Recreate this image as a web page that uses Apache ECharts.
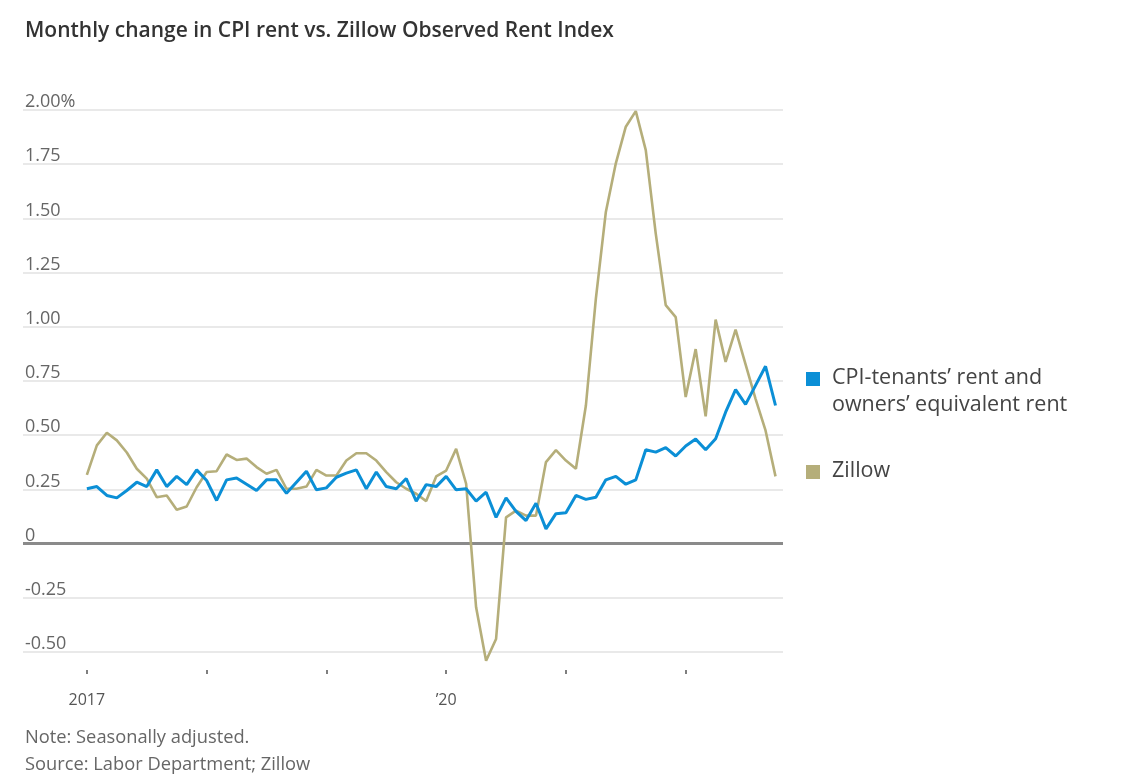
<!DOCTYPE html>
<html>
<head>
<meta charset="utf-8">
<script src="https://cdn.jsdelivr.net/npm/echarts@6/dist/echarts.min.js"></script>
<style>
html,body{margin:0;padding:0;background:#fff;}
#chart{width:1144px;height:778px;}
</style>
</head>
<body>
<div id="chart"></div>
<script>
// Months: Jan 2017 .. Oct 2022 (index 0..69)
var startYear = 2017;
var months = [];
for (var k = 0; k < 70; k++) {
  months.push((startYear + Math.floor(k / 12)) + '-' + String(k % 12 + 1).padStart(2, '0'));
}

var cpiRent = [0.253,0.263,0.222,0.211,0.245,0.283,0.263,0.34,0.263,0.31,0.272,0.34,
  0.291,0.199,0.294,0.303,0.274,0.245,0.294,0.294,0.232,0.283,0.334,0.248,
  0.257,0.306,0.325,0.34,0.253,0.33,0.263,0.253,0.30,0.196,0.272,0.263,
  0.31,0.248,0.253,0.196,0.237,0.121,0.211,0.149,0.106,0.186,0.068,0.138,
  0.142,0.222,0.204,0.214,0.294,0.31,0.274,0.294,0.433,0.422,0.443,0.404,
  0.45,0.482,0.433,0.484,0.606,0.71,0.642,0.73,0.818,0.637];

var zillow = [0.317,0.453,0.511,0.476,0.42,0.345,0.30,0.214,0.222,0.156,0.171,0.26,
  0.33,0.334,0.411,0.386,0.392,0.353,0.322,0.34,0.253,0.253,0.263,0.34,
  0.314,0.314,0.383,0.417,0.417,0.383,0.33,0.283,0.253,0.23,0.196,0.31,
  0.337,0.437,0.276,-0.294,-0.54,-0.44,0.121,0.152,0.129,0.129,0.376,0.431,
  0.383,0.345,0.637,1.13,1.53,1.754,1.923,1.995,1.815,1.43,1.1,1.045,
  0.676,0.897,0.587,1.033,0.838,0.987,0.827,0.668,0.522,0.31];

var yearTicks = [0, 12, 24, 36, 48, 60];
var yearLabels = {0: '2017', 36: '\u201920'};

function pairs(arr) { return arr.map(function (v, i) { return [i, v]; }); }

var FONT = '"Open Sans", Lato, sans-serif';
var chart = echarts.init(document.getElementById('chart'), null, {renderer: 'canvas'});
chart.setOption({
  animation: false,
  backgroundColor: '#fff',
  title: {
    text: 'Monthly change in CPI rent vs. Zillow Observed Rent Index',
    left: 25, top: 21, padding: 0,
    textStyle: {fontFamily: FONT, fontSize: 21, fontWeight: 600, color: '#333'}
  },
  grid: {left: 23, right: 361, top: 110, bottom: 126, containLabel: false},
  xAxis: {
    type: 'value', min: -6.4, max: 69.75,
    offset: 18,
    axisLine: {show: false, onZero: false},
    splitLine: {show: false},
    axisTick: {show: true, length: 4, customValues: yearTicks, lineStyle: {color: '#555', width: 1.5}},
    axisLabel: {customValues: [0, 36], margin: 22, fontFamily: FONT, fontSize: 16, color: '#555',
      formatter: function (v) { return yearLabels[v] || ''; }}
  },
  yAxis: {
    type: 'value', min: -0.5, max: 2, interval: 0.25,
    axisLine: {show: false}, axisTick: {show: false},
    splitLine: {show: true, lineStyle: {color: '#e9e9e9', width: 2}},
    axisLabel: {
      inside: true, margin: 2, align: 'left', verticalAlign: 'bottom', lineHeight: 16, padding: [0, 0, 0, 0],
      fontFamily: FONT, fontSize: 18, color: '#666',
      formatter: function (v) {
        if (Math.abs(v) < 1e-9) return '0';
        if (Math.abs(v - 2) < 1e-9) return '2.00%';
        return v.toFixed(2);
      }
    }
  },
  series: [
    {
      name: 'Zillow', type: 'line', data: pairs(zillow), showSymbol: false, clip: false,
      lineStyle: {color: '#b5ae7a', width: 2.6}, itemStyle: {color: '#b5ae7a'}, z: 3,
      markLine: {
        silent: true, symbol: ['none', 'none'], label: {show: false},
        lineStyle: {color: '#8a8a8a', width: 3, type: 'solid'},
        data: [{yAxis: 0}], z: 2
      }
    },
    {
      name: 'CPI', type: 'line', data: pairs(cpiRent), showSymbol: false, clip: false,
      lineStyle: {color: '#0b8fd6', width: 3}, itemStyle: {color: '#0b8fd6'}, z: 4
    }
  ],
  graphic: [
    {type: 'rect', left: 806, top: 372, shape: {width: 14, height: 14}, style: {fill: '#0b8fd6'}},
    {type: 'text', left: 832, top: 364, style: {text: 'CPI-tenants\u2019 rent and\nowners\u2019 equivalent rent',
      font: '21.5px ' + FONT, fill: '#444', lineHeight: 27}},
    {type: 'rect', left: 806, top: 465, shape: {width: 14, height: 14}, style: {fill: '#b5ae7a'}},
    {type: 'text', left: 832, top: 457, style: {text: 'Zillow', font: '21.5px ' + FONT, fill: '#444', lineHeight: 27}},
    {type: 'text', left: 25, top: 729, style: {text: 'Note: Seasonally adjusted.', font: '18.3px ' + FONT, fill: '#666'}},
    {type: 'text', left: 25, top: 756, style: {text: 'Source: Labor Department; Zillow', font: '18.3px ' + FONT, fill: '#666'}}
  ]
});
</script>
</body>
</html>
